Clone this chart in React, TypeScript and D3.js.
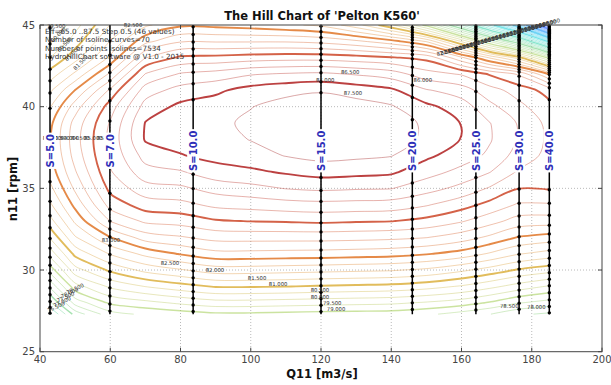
import React from 'react';
import * as d3 from 'd3';

// ---------- data ----------
const Q_COLS = [42.8, 50, 60, 70, 80, 90, 100, 110, 120, 130, 140, 150, 160, 168, 176, 185];
const N_ROWS = [27.3, 28, 29, 30, 31, 32, 33, 34, 35, 36, 37, 38, 39, 40, 41, 42, 43, 44, 45];

// efficiency estimated along each Q11 column (bottom n11 -> top n11)
const EFF_Q43 = [75.4, 76.4, 77.6, 78.7, 79.7, 80.55, 81.3, 81.9, 82.35, 82.7, 82.88, 82.95, 82.85, 82.45, 81.9, 81.2, 80.5, 79.9, 79.4];
const EFF_Q50 = [77.2, 78.2, 79.3, 80.3, 81.15, 81.95, 82.6, 83.15, 83.6, 83.95, 84.2, 84.3, 84.2, 83.75, 83.02, 82.1, 81.3, 80.75, 80.3];
const EFF_Q60 = [78.3, 79.1, 80.1, 81.1, 82.05, 82.98, 84.02, 84.7, 85.15, 85.45, 85.6, 85.65, 85.55, 85.25, 84.6, 83.6, 82.6, 82.02, 81.52];
const EFF_Q70 = [78.6, 79.35, 80.52, 81.65, 82.65, 83.75, 84.6, 85.25, 85.8, 86.3, 86.7, 87.05, 87.02, 86.7, 86.25, 85.52, 84.48, 83.35, 82.4];
const EFF_Q80 = [78.75, 79.6, 80.8, 81.95, 83.05, 83.95, 84.7, 85.35, 85.9, 86.45, 86.97, 87.18, 87.22, 87.12, 86.7, 86.05, 85.1, 83.95, 82.9];
const EFF_Q90 = [78.9, 79.8, 81.05, 82.25, 83.35, 84.18, 84.95, 85.62, 86.2, 86.8, 87.15, 87.3, 87.38, 87.25, 86.9, 86.2, 85.15, 83.95, 82.85];
const EFF_Q100 = [78.9, 79.8, 81.05, 82.25, 83.35, 84.2, 85.02, 85.7, 86.35, 86.9, 87.3, 87.52, 87.6, 87.48, 87.2, 86.45, 85.25, 83.95, 82.75];
const EFF_Q110 = [78.85, 79.75, 81.02, 82.2, 83.32, 84.2, 85.05, 85.8, 86.52, 87.06, 87.52, 87.82, 87.88, 87.7, 87.35, 86.55, 85.3, 83.95, 82.6];
const EFF_Q120 = [78.8, 79.7, 80.95, 82.15, 83.3, 84.2, 85.1, 85.85, 86.6, 87.2, 87.65, 87.95, 88.02, 87.8, 87.45, 86.6, 85.3, 83.85, 82.4];
const EFF_Q130 = [78.78, 79.65, 80.9, 82.1, 83.25, 84.17, 85.05, 85.82, 86.55, 87.15, 87.6, 87.88, 87.92, 87.7, 87.3, 86.45, 85.2, 83.6, 81.7];
const EFF_Q140 = [78.75, 79.6, 80.85, 82.05, 83.2, 84.12, 85.02, 85.78, 86.52, 87.08, 87.52, 87.75, 87.78, 87.55, 87.1, 86.25, 85.05, 83.2, 80.6];
const EFF_Q150 = [78.6, 79.45, 80.7, 81.9, 83.05, 84.02, 84.85, 85.55, 86.2, 86.7, 87.1, 87.4, 87.4, 87.12, 86.55, 85.7, 84.85, 82.45, 78.8];
const EFF_Q160 = [78.3, 79.25, 80.45, 81.6, 82.8, 83.75, 84.55, 85.2, 85.85, 86.35, 86.75, 86.98, 86.98, 86.75, 86.25, 85.45, 83.6, 80.45, 76.05];
const EFF_Q168 = [78.02, 78.95, 80.15, 81.3, 82.45, 83.4, 84.2, 84.85, 85.45, 86.02, 86.4, 86.55, 86.52, 86.15, 85.7, 84.95, 82.45, 78.45, 73.45];
const EFF_Q176 = [77.6, 78.55, 79.8, 80.95, 82.05, 82.98, 83.8, 84.45, 85.02, 85.45, 85.8, 85.97, 85.97, 85.65, 85.3, 84.45, 81.3, 76.45, 70.45];
const EFF_Q185 = [77.4, 78.3, 79.45, 80.7, 81.8, 82.8, 83.75, 84.45, 85.05, 85.25, 85.35, 85.4, 85.35, 85.15, 84.8, 82.95, 78.8, 72.8, 65.02];

const LEVELS = [65.0, 65.5, 66.0, 66.5, 67.0, 67.5, 68.0, 68.5, 69.0, 69.5, 70.0, 70.5, 71.0, 71.5, 72.0, 72.5, 73.0, 73.5, 74.0, 74.5, 75.0, 75.5, 76.0, 76.5, 77.0, 77.5, 78.0, 78.5, 79.0, 79.5, 80.0, 80.5, 81.0, 81.5, 82.0, 82.5, 83.0, 83.5, 84.0, 84.5, 85.0, 85.5, 86.0, 86.5, 87.0, 87.5];

const S_NAMES = ['S=5.0', 'S=7.0', 'S=10.0', 'S=15.0', 'S=20.0', 'S=25.0', 'S=30.0', 'S=40.0'];
const S_Q = [42.85, 59.9, 83.6, 120.0, 146.0, 164.1, 176.4, 185.0];

const X_TICKS = [40, 60, 80, 100, 120, 140, 160, 180, 200];
const Y_TICKS = [25, 30, 35, 40, 45];

// colour key of the isolines (level -> colour)
const COLOR_LEVELS = [65, 68, 70.5, 73, 75.5, 77.5, 79, 81, 83, 85, 87, 87.5];
const COLOR_VALUES = ['#0a0aff', '#0a6cff', '#08b0f4', '#18d0d8', '#40d4a0', '#78cc70', '#a8d060', '#dcb040', '#e07628', '#cc4628', '#b02020', '#a01818'];

// contour labels: [level, Q11, n11]
const LABELS_FLAT: [number, number, number][] = [
  [87.0, 121.2, 41.6], [86.5, 128.3, 42.1], [87.5, 129.1, 40.85], [86.0, 149.0, 41.65],
  [83.0, 60.2, 31.8], [82.5, 77.0, 30.43], [82.0, 89.8, 30.0], [81.5, 101.8, 29.5],
  [81.0, 107.8, 29.14], [80.5, 119.7, 28.77], [80.0, 119.7, 28.35], [79.5, 123.2, 27.98],
  [79.0, 124.3, 27.6], [78.5, 173.6, 27.8], [78.0, 181.3, 27.73],
  [83.0, 43.4, 38.1], [83.5, 45.9, 38.1], [84.0, 48.5, 38.1], [84.5, 51.5, 38.1], [85.0, 55.2, 38.1], [85.5, 58.9, 38.1],
  [79.5, 44.6, 44.95], [82.5, 66.5, 44.98],
];
const LABELS_LOWLEFT: [number, number, number][] = [
  [76.5, 44.6, 27.75], [77.0, 46.3, 28.05], [77.5, 47.3, 28.35], [78.0, 48.4, 28.6], [78.5, 50.0, 28.85],
];
const LABELS_TOPLEFT: [number, number, number][] = [
  [80.0, 45.2, 44.4], [80.5, 47.0, 43.8], [81.0, 49.2, 43.25], [81.5, 51.6, 42.7],
];
const LABELS_TOPRIGHT = [82.5, 82.0, 81.5, 81.0, 80.5, 80.0, 79.5, 79.0, 78.5, 78.0, 77.5, 77.0, 76.5, 76.0, 75.5, 75.0, 74.5, 74.0, 73.5, 73.0, 72.5, 72.0, 71.5, 71.0, 70.5, 70.0, 69.5, 69.0, 68.5, 68.0];

const INFO_LINES = [
  'Eff=65.0 ..87.5 Step 0.5 (46 values)',
  'Number of isoline curves=70',
  'Number of points isolines=7534',
  'HydroHillChart software @ V1.0 - 2015',
];

// ---------- helpers ----------
const colorOf = d3.scaleLinear<string>().domain(COLOR_LEVELS).range(COLOR_VALUES).interpolate(d3.interpolateRgb).clamp(true);
const isThick = (l: number) => Math.abs(l - Math.round(l)) < 1e-6 && Math.round(l) % 2 === 1;
const boldW = (s: string) => {
  let w = 0;
  for (const ch of s) w += ch === 'S' ? 7.2 : ch === '=' ? 8.4 : ch === '.' ? 3.8 : 6.96;
  return w;
};

export default function App() {
  const W = 611, H = 385;
  const left = 40, right = 602, top = 25, bottom = 351.7;
  const x = d3.scaleLinear().domain([40, 200]).range([left, right]);
  const y = d3.scaleLinear().domain([25, 45]).range([bottom, top]);

  const cols = [EFF_Q43, EFF_Q50, EFF_Q60, EFF_Q70, EFF_Q80, EFF_Q90, EFF_Q100, EFF_Q110, EFF_Q120, EFF_Q130, EFF_Q140, EFF_Q150, EFF_Q160, EFF_Q168, EFF_Q176, EFF_Q185];
  const nx = Q_COLS.length, ny = N_ROWS.length;
  const values: number[] = [];
  for (let j = 0; j < ny; j++) for (let i = 0; i < nx; i++) values.push(cols[i][j]);

  const qOf = d3.scaleLinear().domain(d3.range(nx)).range(Q_COLS);
  const nOf = d3.scaleLinear().domain(d3.range(ny)).range(N_ROWS);
  const toPx = (p: number[]): [number, number] => [x(qOf(p[0] - 0.5)), y(nOf(p[1] - 0.5))];

  const contours = d3.contours().size([nx, ny]).thresholds(LEVELS)(values);
  const openLine = d3.line<[number, number]>().curve(d3.curveCatmullRom.alpha(0.5));
  const closedLine = d3.line<[number, number]>().curve(d3.curveCatmullRomClosed.alpha(0.5));

  const paths: { level: number; d: string }[] = [];
  const isB = (p: number[]) => p[0] <= 0 || p[0] >= nx || p[1] <= 0 || p[1] >= ny;
  for (const c of contours) {
    for (const poly of c.coordinates) {
      for (const ring of poly) {
        const pts = ring.slice();
        if (pts.length > 1) {
          const a = pts[0], b = pts[pts.length - 1];
          if (a[0] === b[0] && a[1] === b[1]) pts.pop();
        }
        const flags = pts.map(isB);
        if (!flags.some(Boolean)) {
          if (pts.length >= 3) paths.push({ level: c.value, d: closedLine(pts.map(toPx)) || '' });
          continue;
        }
        const start = flags.indexOf(true);
        let run: number[][] = [];
        for (let k = 1; k <= pts.length; k++) {
          const idx = (start + k) % pts.length;
          if (flags[idx]) {
            if (run.length >= 2) paths.push({ level: c.value, d: openLine(run.map(toPx)) || '' });
            run = [];
          } else run.push(pts[idx]);
        }
        if (run.length >= 2) paths.push({ level: c.value, d: openLine(run.map(toPx)) || '' });
      }
    }
  }
  paths.sort((a, b) => (isThick(a.level) ? 1 : 0) - (isThick(b.level) ? 1 : 0));

  // dots where isolines cross the S lines
  const dots: { q: number; n: number }[] = [];
  S_Q.forEach((q) => {
    let i = d3.bisectRight(Q_COLS, q) - 1;
    i = Math.max(0, Math.min(nx - 2, i));
    const f = (q - Q_COLS[i]) / (Q_COLS[i + 1] - Q_COLS[i]);
    const col = N_ROWS.map((_, j) => cols[i][j] * (1 - f) + cols[i + 1][j] * f);
    for (let j = 0; j < ny - 1; j++) {
      for (const L of LEVELS) {
        const v0 = col[j], v1 = col[j + 1];
        if ((v0 - L) * (v1 - L) < 0) {
          const n = N_ROWS[j] + ((L - v0) / (v1 - v0)) * (N_ROWS[j + 1] - N_ROWS[j]);
          dots.push({ q, n });
        }
      }
    }
  });

  const font = 'DejaVu Sans, sans-serif';
  const trStart = [155.5, 43.35], trEnd = [185.5, 45.15];
  const strokeW = (l: number) => (isThick(l) ? (l < 80 ? 1.4 : 1.9) : 0.9);
  const strokeO = (l: number) => (isThick(l) ? (l < 80 ? 0.6 : 0.85) : 0.42);

  return (
    <div style={{ position: 'absolute', left: 0, top: 0 }}>
      <svg width={W} height={H} style={{ display: 'block', background: '#fff' }} fontFamily={font}>
        <defs>
          <clipPath id="plot"><rect x={left} y={top} width={right - left} height={bottom - top} /></clipPath>
        </defs>
        <rect x={0} y={0} width={W} height={H} fill="#fff" />
        <g stroke="#a8a8a8" strokeWidth={0.8} strokeDasharray="1,2">
          {X_TICKS.slice(1, -1).map((t) => <line key={'gx' + t} x1={x(t)} x2={x(t)} y1={top} y2={bottom} />)}
          {Y_TICKS.slice(1, -1).map((t) => <line key={'gy' + t} x1={left} x2={right} y1={y(t)} y2={y(t)} />)}
        </g>
        <g clipPath="url(#plot)" fill="none">
          {paths.map((p, k) => (
            <path key={k} d={p.d} stroke={colorOf(p.level)} strokeWidth={strokeW(p.level)} strokeOpacity={strokeO(p.level)} />
          ))}
        </g>
        <g>
          {S_Q.map((q, k) => (
            <line key={'s' + k} x1={x(q)} x2={x(q)} y1={y(27.3)} y2={y(45)} stroke="#000" strokeWidth={1.5} />
          ))}
          {dots.map((d, k) => <circle key={'d' + k} cx={x(d.q)} cy={y(d.n)} r={1.7} fill="#000" />)}
        </g>
        <g fontSize={5.3} fill="#333" textAnchor="middle">
          {LABELS_FLAT.map(([l, q, n], k) => (
            <text key={'lf' + k} x={x(q)} y={y(n)} dy="0.35em">{l.toFixed(3)}</text>
          ))}
          {LABELS_LOWLEFT.map(([l, q, n], k) => (
            <text key={'ll' + k} transform={`translate(${x(q)},${y(n)}) rotate(-25)`} dy="0.35em">{l.toFixed(3)}</text>
          ))}
          {LABELS_TOPLEFT.map(([l, q, n], k) => (
            <text key={'lt' + k} transform={`translate(${x(q)},${y(n)}) rotate(-45)`} dy="0.35em">{l.toFixed(3)}</text>
          ))}
          {LABELS_TOPRIGHT.map((l, k) => {
            const t = k / (LABELS_TOPRIGHT.length - 1);
            const q = trStart[0] + (trEnd[0] - trStart[0]) * t;
            const n = trStart[1] + (trEnd[1] - trStart[1]) * t;
            return <text key={'lr' + k} transform={`translate(${x(q)},${y(n)}) rotate(-16)`} dy="0.35em">{l.toFixed(3)}</text>;
          })}
        </g>
        <g>
          {S_NAMES.map((s, k) => {
            const w = boldW(s);
            return (
              <g key={'sl' + k} transform={`translate(${x(S_Q[k])},${y(37.3)}) rotate(-90)`}>
                <rect x={-w / 2 - 1.5} y={-6} width={w + 3} height={12} fill="#fff" />
                <text textAnchor="middle" dy="0.36em" fontSize={10} fontWeight="bold" fill="#2e2eb8">{s}</text>
              </g>
            );
          })}
        </g>
        <g fontSize={7.2} fill="#333">
          {INFO_LINES.map((t, k) => <text key={'i' + k} x={45} y={33.5 + k * 8.6}>{t}</text>)}
        </g>
        <rect x={left} y={top} width={right - left} height={bottom - top} fill="none" stroke="#444" strokeWidth={1} />
        <g stroke="#444" strokeWidth={1}>
          {X_TICKS.map((t) => (
            <g key={'tx' + t}>
              <line x1={x(t)} x2={x(t)} y1={bottom} y2={bottom - 4} />
              <line x1={x(t)} x2={x(t)} y1={top} y2={top + 4} />
            </g>
          ))}
          {Y_TICKS.map((t) => (
            <g key={'ty' + t}>
              <line x1={left} x2={left + 4} y1={y(t)} y2={y(t)} />
              <line x1={right} x2={right - 4} y1={y(t)} y2={y(t)} />
            </g>
          ))}
        </g>
        <g fontSize={10} fill="#444">
          {X_TICKS.map((t) => <text key={'lx' + t} x={x(t)} y={363} textAnchor="middle">{t}</text>)}
          {Y_TICKS.map((t) => <text key={'ly' + t} x={35} y={y(t) + 3.6} textAnchor="end">{t}</text>)}
        </g>
        <text x={322} y={20} textAnchor="middle" fontSize={11.5} fontWeight="bold" fill="#111">The Hill Chart of 'Pelton K560'</text>
        <text x={322} y={378} textAnchor="middle" fontSize={11.5} fontWeight="bold" fill="#111">Q11 [m3/s]</text>
        <text transform="translate(17,189) rotate(-90)" textAnchor="middle" fontSize={11.5} fontWeight="bold" fill="#111">n11 [rpm]</text>
      </svg>
    </div>
  );
}
